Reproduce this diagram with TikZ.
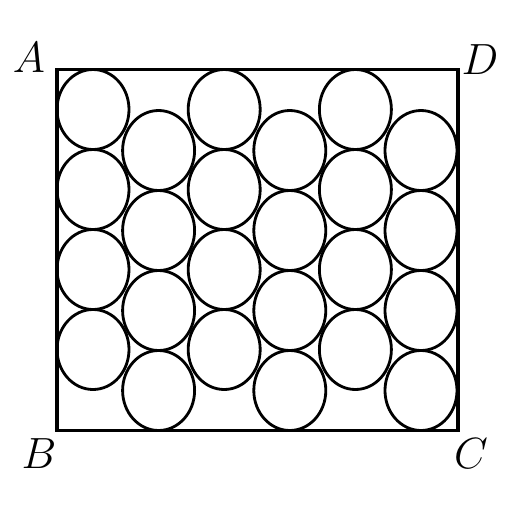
\documentclass[tikz,border=0pt]{standalone}
\begin{document}
\begin{tikzpicture}[
  x=0.02cm,
  y=-0.02cm,
  box/.style={line width=1.9pt, line join=miter},
  ball/.style={line width=1.6pt},
  corner/.style={font=\fontsize{26}{30}\selectfont, inner sep=0pt}
]
\useasboundingbox (0,0) rectangle (512,512);

% Corners of the box
\coordinate (A) at (57,69.5);
\coordinate (B) at (57,430.5);
\coordinate (C) at (458,430.5);
\coordinate (D) at (458,69.5);
\draw[box] (A) -- (B) -- (C) -- (D) -- cycle;

% Six columns of four balls, touching top and bottom in turn
\foreach \k in {0,...,5} {
  \pgfmathsetmacro{\cx}{93+65.6*\k}
  \pgfmathsetmacro{\dy}{mod(\k,2)*41}
  \foreach \j in {0,...,3} {
    \draw[ball] (\cx,109.5+\dy+80*\j) ellipse [x radius=36, y radius=40];
  }
}

% Labels
\node[corner] (lA) at (29,58) {$A$};
\node[corner] (lB) at (39,454) {$B$};
\node[corner] (lC) at (471,454) {$C$};
\node[corner] (lD) at (480,60) {$D$};

\end{tikzpicture}
\end{document}
